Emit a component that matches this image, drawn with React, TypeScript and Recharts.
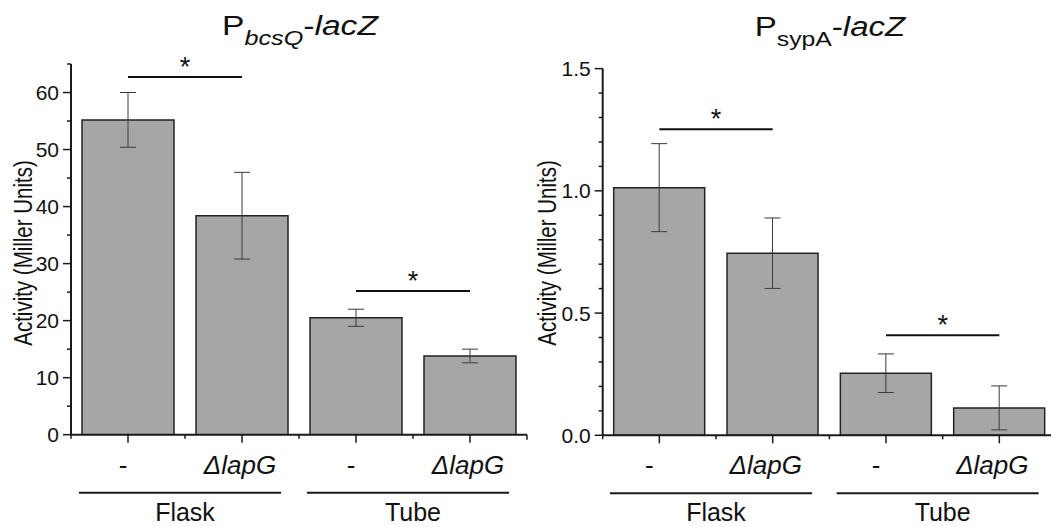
import React from 'react';
import { BarChart, Bar, XAxis, YAxis, ErrorBar, ReferenceLine } from 'recharts';

const FONT = '"Liberation Sans", Arial, Helvetica, sans-serif';

// ---- data ----
const categories = ['Flask -', 'Flask ΔlapG', 'Tube -', 'Tube ΔlapG'];
const tickLabels = ['-', 'ΔlapG', '-', 'ΔlapG'];
const groupLabels = ['Flask', 'Tube'];

const bcsQValues = [55.2, 38.4, 20.5, 13.8];
const bcsQErrors = [4.8, 7.6, 1.5, 1.2];
const bcsQTicks = [0, 5, 10, 15, 20, 25, 30, 35, 40, 45, 50, 55, 60, 65];
const bcsQMajor = [0, 10, 20, 30, 40, 50, 60];
const bcsQSig = [
  { from: 0, to: 1, y: 62.7 },
  { from: 2, to: 3, y: 25.2 },
];

const sypAValues = [1.013, 0.745, 0.254, 0.112];
const sypAErrors = [0.18, 0.144, 0.079, 0.09];
const sypATicks = [0, 0.1, 0.2, 0.3, 0.4, 0.5, 0.6, 0.7, 0.8, 0.9, 1.0, 1.1, 1.2, 1.3, 1.4, 1.5];
const sypAMajor = [0, 0.5, 1.0, 1.5];
const sypASig = [
  { from: 0, to: 1, y: 1.252 },
  { from: 2, to: 3, y: 0.409 },
];

const makeData = (values: number[], errors: number[]) =>
  categories.map((c, i) => ({ cat: c, value: values[i], err: errors[i] }));

const INK = '#1a1a1a';

const YTick = (props: any) => {
  const { x, y, payload, majors, decimals } = props;
  const v = payload.value as number;
  const isMajor = majors.some((m: number) => Math.abs(m - v) < 1e-6);
  return (
    <g>
      <line x1={x} x2={x - (isMajor ? 8 : 4)} y1={y} y2={y} stroke={INK} strokeWidth={1.5} />
      {isMajor && (
        <text x={x - 12} y={y} dy="0.36em" textAnchor="end" fontSize={21} fill="#111" fontFamily={FONT}>
          {v.toFixed(decimals)}
        </text>
      )}
    </g>
  );
};

const XTick = (props: any) => {
  const { x, y, payload, half, shift } = props;
  const idx: number = payload.index ?? props.index ?? 0;
  const label = tickLabels[idx];
  const isLast = idx === categories.length - 1;
  const isGroupStart = idx % 2 === 0;
  const groupCenter = x + half;
  return (
    <g>
      <line x1={x} x2={x} y1={y} y2={y + 8} stroke={INK} strokeWidth={1.5} />
      <line x1={x - half} x2={x - half} y1={y} y2={y + 4} stroke={INK} strokeWidth={1.5} />
      {isLast && <line x1={x + half} x2={x + half} y1={y} y2={y + 5} stroke={INK} strokeWidth={1.5} />}
      <text
        x={x + shift + (label === '-' ? -3 : 0)}
        y={y + 39}
        textAnchor="middle"
        fontSize={26}
        fontStyle={label === '-' ? 'normal' : 'italic'}
        fill="#111"
        fontFamily={FONT}
      >
        {label}
      </text>
      {isGroupStart && (
        <g>
          <line x1={groupCenter - 106} x2={groupCenter + 96} y1={y + 58} y2={y + 58} stroke={INK} strokeWidth={2} />
          <text x={groupCenter} y={y + 86} textAnchor="middle" fontSize={25} fill="#111" fontFamily={FONT}>
            {groupLabels[idx / 2]}
          </text>
        </g>
      )}
    </g>
  );
};

const StarLabel = (props: any) => {
  const vb = props.viewBox || {};
  return (
    <text
      x={vb.x + (vb.width || 0) / 2}
      y={vb.y - 1}
      textAnchor="middle"
      fontSize={27}
      fill="#111"
      fontFamily={FONT}
    >
      *
    </text>
  );
};

type PanelProps = {
  data: any[];
  ticks: number[];
  majors: number[];
  domain: [number, number];
  sig: { from: number; to: number; y: number }[];
  decimals: number;
  width: number;
  margin: { top: number; right: number; bottom: number; left: number };
  barSize: number;
  half: number;
  shift: number;
};

const Panel = ({ data, ticks, majors, domain, sig, decimals, width, margin, barSize, half, shift }: PanelProps) => (
  <BarChart width={width} height={527} data={data} margin={margin} style={{ overflow: 'visible' }}>
    <XAxis
      dataKey="cat"
      type="category"
      interval={0}
      height={60}
      tickSize={0}
      tickMargin={0}
      axisLine={{ stroke: INK, strokeWidth: 2 }}
      tickLine={false}
      tick={(p: any) => <XTick {...p} half={half} shift={shift} />}
    />
    <YAxis
      type="number"
      domain={domain}
      ticks={ticks}
      interval={0}
      width={60}
      tickSize={0}
      tickMargin={0}
      allowDataOverflow
      axisLine={{ stroke: INK, strokeWidth: 2 }}
      tickLine={false}
      tick={(p: any) => <YTick {...p} majors={majors} decimals={decimals} />}
    />
    <Bar dataKey="value" fill="#a6a6a6" stroke="#222" strokeWidth={1.5} barSize={barSize} isAnimationActive={false}>
      <ErrorBar dataKey="err" width={8} stroke="#3a3a3a" strokeWidth={1} isAnimationActive={false} />
    </Bar>
    {sig.map((s, i) => (
      <ReferenceLine
        key={i}
        segment={[
          { x: categories[s.from], y: s.y },
          { x: categories[s.to], y: s.y },
        ]}
        stroke="#111"
        strokeWidth={2}
        ifOverflow="visible"
        label={(p: any) => <StarLabel {...p} />}
      />
    ))}
  </BarChart>
);

export default function App() {
  const leftData = makeData(bcsQValues, bcsQErrors);
  const rightData = makeData(sypAValues, sypAErrors);
  return (
    <div
      style={{
        position: 'absolute',
        left: 0,
        top: 0,
        width: 1051,
        height: 527,
        overflow: 'hidden',
        background: '#fff',
        fontFamily: FONT,
      }}
    >
      <div style={{ position: 'absolute', left: 0, top: 0 }}>
        <Panel
          data={leftData}
          ticks={bcsQTicks}
          majors={bcsQMajor}
          domain={[0, 65]}
          sig={bcsQSig}
          decimals={0}
          width={540}
          margin={{ top: 64, right: 13, bottom: 32.3, left: 11 }}
          barSize={92}
          half={57}
          shift={-2}
        />
      </div>
      <div style={{ position: 'absolute', left: 530, top: 0 }}>
        <Panel
          data={rightData}
          ticks={sypATicks}
          majors={sypAMajor}
          domain={[0, 1.5]}
          sig={sypASig}
          decimals={1}
          width={540}
          margin={{ top: 68.6, right: 14, bottom: 31.7, left: 12.7 }}
          barSize={91}
          half={56.65}
          shift={-7}
        />
      </div>
      <svg
        width={1051}
        height={527}
        style={{ position: 'absolute', left: 0, top: 0, pointerEvents: 'none' }}
        fontFamily={FONT}
      >
        <g transform="translate(300,35) scale(1.2,1)">
          <text x={0} y={0} textAnchor="middle" fontSize={28} fill="#111">
            <tspan>P</tspan>
            <tspan fontSize={21} fontStyle="italic" dy={10}>bcsQ</tspan>
            <tspan dy={-10}>-</tspan>
            <tspan fontStyle="italic">lacZ</tspan>
          </text>
        </g>
        <g transform="translate(830,36) scale(1.18,1)">
          <text x={0} y={0} textAnchor="middle" fontSize={28} fill="#111">
            <tspan>P</tspan>
            <tspan fontSize={21} dy={10}>sypA</tspan>
            <tspan dy={-10}>-</tspan>
            <tspan fontStyle="italic">lacZ</tspan>
          </text>
        </g>
        <g transform="translate(32,253) rotate(-90) scale(1,1.28)">
          <text x={0} y={0} textAnchor="middle" fontSize={20.5} fill="#111">
            Activity (Miller Units)
          </text>
        </g>
        <g transform="translate(556,253) rotate(-90) scale(1,1.28)">
          <text x={0} y={0} textAnchor="middle" fontSize={20.5} fill="#111">
            Activity (Miller Units)
          </text>
        </g>
      </svg>
    </div>
  );
}
